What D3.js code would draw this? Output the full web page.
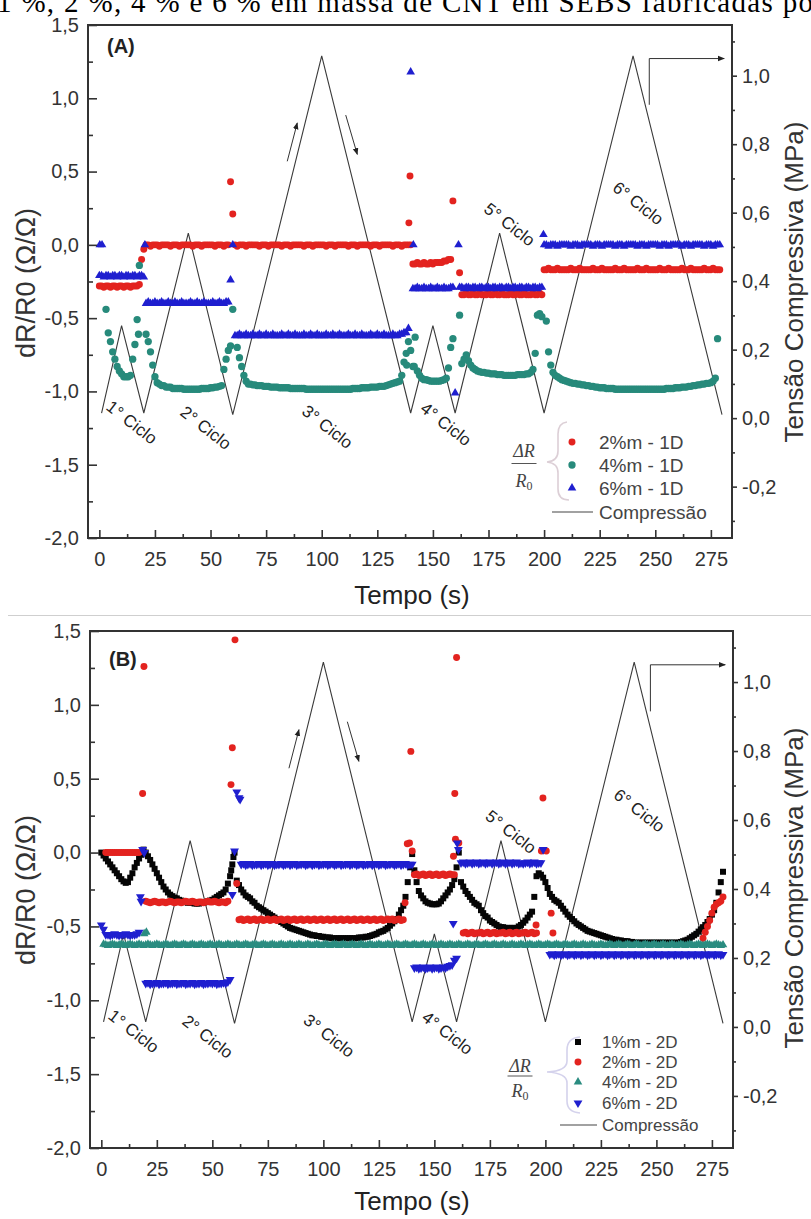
<!DOCTYPE html>
<html><head><meta charset="utf-8">
<script src="https://cdn.jsdelivr.net/npm/d3@7"></script>
<style>body{margin:0;background:#fff}svg{display:block}</style>
</head><body>
<svg id="chart" width="811" height="1219"></svg>
<script>
// ---------------- DATA ----------------
const captionText = "1 %, 2 %, 4 % e 6 % em massa de CNT em SEBS fabricadas po";
const xTicks = [0,25,50,75,100,125,150,175,200,225,250,275];
const yTicks = [-2,-1.5,-1,-0.5,0,0.5,1,1.5];
const yRTicks = [-0.2,0,0.2,0.4,0.6,0.8,1.0];
const cycleLabels = ["1° Ciclo","2° Ciclo","3° Ciclo","4° Ciclo","5° Ciclo","6° Ciclo"];
const cycleT = [14.5,47.8,102.5,155.8,184.4,242.2];
const cycleP = [-0.013,-0.029,-0.026,-0.018,0.565,0.627];
// compression profile (time s, MPa)
const compT = [1,10,20,40,60,100,140,150,160,180,200,240,280];
const compP = [0.015,0.27,0.015,0.54,0.01,1.058,0.015,0.27,0.015,0.54,0.015,1.058,0.01];

// Panel A : values sampled every second (index = time in s), null = no point
const A_red = [
/*0*/ -0.28,-0.28,-0.29,-0.28,-0.28,-0.29,-0.28,-0.28,-0.29,-0.28,
/*10*/ -0.28,-0.29,-0.28,-0.28,-0.29,-0.28,-0.28,-0.28,-0.27,-0.10,
/*20*/ -0.03,0,0,-0.01,0,0,0,-0.01,0,0,
/*30*/ 0,0,-0.01,0,0,0,-0.01,0,0,0,
/*40*/ 0,0,-0.01,0,0,0,-0.01,0,0,0,
/*50*/ 0,0,-0.01,0,0,0,-0.01,0,0,0.43,
/*60*/ 0.21,0,-0.01,0,0,0,-0.01,0,0,0,
/*70*/ 0,0,-0.01,0,0,0,-0.01,0,0,0,
/*80*/ 0,0,-0.01,0,0,0,-0.01,0,0,0,
/*90*/ 0,0,-0.01,0,0,0,-0.01,0,0,0,
/*100*/ 0,0,-0.01,0,0,0,-0.01,0,0,0,
/*110*/ 0,0,-0.01,0,0,0,-0.01,0,0,0,
/*120*/ 0,0,-0.01,0,0,0,-0.01,0,0,0,
/*130*/ 0,0,-0.01,0,0,0,-0.01,0,0,0,
/*140*/ 0,-0.13,-0.13,-0.12,-0.13,-0.13,-0.12,-0.13,-0.13,-0.12,
/*150*/ -0.13,-0.12,-0.12,-0.12,-0.12,-0.11,-0.11,-0.10,-0.10,0.30,
/*160*/ null,null,-0.19,-0.34,-0.34,-0.33,-0.34,-0.34,-0.33,-0.34,
/*170*/ -0.34,-0.33,-0.34,-0.34,-0.34,-0.33,-0.34,-0.34,-0.33,-0.34,
/*180*/ -0.34,-0.33,-0.34,-0.34,-0.34,-0.33,-0.34,-0.34,-0.33,-0.34,
/*190*/ -0.34,-0.33,-0.34,-0.34,-0.34,-0.33,-0.34,-0.34,-0.33,-0.34,
/*200*/ -0.17,-0.17,-0.16,-0.17,-0.17,-0.17,-0.16,-0.17,-0.17,-0.17,
/*210*/ -0.17,-0.17,-0.16,-0.17,-0.17,-0.17,-0.16,-0.17,-0.17,-0.17,
/*220*/ -0.17,-0.17,-0.16,-0.17,-0.17,-0.17,-0.16,-0.17,-0.17,-0.17,
/*230*/ -0.17,-0.17,-0.16,-0.17,-0.17,-0.17,-0.16,-0.17,-0.17,-0.17,
/*240*/ -0.17,-0.17,-0.16,-0.17,-0.17,-0.17,-0.16,-0.17,-0.17,-0.17,
/*250*/ -0.17,-0.17,-0.16,-0.17,-0.17,-0.17,-0.16,-0.17,-0.17,-0.17,
/*260*/ -0.17,-0.17,-0.16,-0.17,-0.17,-0.17,-0.16,-0.17,-0.17,-0.17,
/*270*/ -0.17,-0.17,-0.16,-0.17,-0.17,-0.17,-0.16,-0.17,-0.17,-0.17,
/*280*/ null];
const A_red_extra = [[139.2,0.15],[139.7,0.47]];

const A_teal = [
/*0*/ null,null,null,-0.44,-0.60,-0.66,-0.73,-0.78,-0.83,-0.86,
/*10*/ -0.88,-0.90,-0.90,-0.90,-0.89,-0.78,-0.68,-0.51,-0.14,null,
/*20*/ null,-0.61,-0.66,-0.73,-0.82,-0.90,-0.94,-0.95,-0.96,-0.96,
/*30*/ -0.97,-0.97,-0.97,-0.98,-0.98,-0.98,-0.98,-0.98,-0.985,-0.985,
/*40*/ -0.985,-0.985,-0.985,-0.985,-0.985,-0.985,-0.98,-0.98,-0.98,-0.98,
/*50*/ -0.975,-0.975,-0.97,-0.97,-0.965,-0.96,-0.85,-0.78,-0.72,-0.69,
/*60*/ -0.44,null,-0.70,-0.77,-0.83,-0.89,-0.93,-0.95,-0.95,-0.955,
/*70*/ -0.955,-0.96,-0.96,-0.96,-0.965,-0.965,-0.965,-0.97,-0.97,-0.97,
/*80*/ -0.97,-0.975,-0.975,-0.975,-0.975,-0.975,-0.98,-0.98,-0.98,-0.98,
/*90*/ -0.98,-0.98,-0.98,-0.985,-0.985,-0.985,-0.985,-0.985,-0.985,-0.985,
/*100*/ -0.985,-0.985,-0.985,-0.985,-0.985,-0.985,-0.985,-0.985,-0.985,-0.985,
/*110*/ -0.985,-0.985,-0.985,-0.985,-0.98,-0.98,-0.98,-0.98,-0.975,-0.975,
/*120*/ -0.975,-0.975,-0.97,-0.97,-0.97,-0.97,-0.965,-0.965,-0.965,-0.96,
/*130*/ -0.955,-0.95,-0.945,-0.94,-0.935,-0.93,-0.89,-0.80,-0.74,-0.66,
/*140*/ -0.72,-0.83,-0.63,-0.86,-0.89,-0.91,-0.92,-0.92,-0.925,-0.93,
/*150*/ -0.93,-0.93,-0.93,-0.93,-0.925,-0.92,-0.91,-0.84,-0.70,-0.64,
/*160*/ null,null,-0.48,-0.81,-0.78,-0.75,-0.79,-0.82,-0.84,-0.85,
/*170*/ -0.86,-0.865,-0.87,-0.87,-0.875,-0.875,-0.88,-0.88,-0.88,-0.885,
/*180*/ -0.885,-0.885,-0.89,-0.89,-0.89,-0.89,-0.89,-0.89,-0.885,-0.885,
/*190*/ -0.885,-0.885,-0.88,-0.88,-0.87,-0.85,-0.74,-0.48,-0.47,-0.49,
/*200*/ null,-0.52,-0.73,-0.82,-0.87,-0.89,-0.90,-0.91,-0.92,-0.925,
/*210*/ -0.93,-0.935,-0.94,-0.945,-0.945,-0.95,-0.95,-0.955,-0.955,-0.96,
/*220*/ -0.96,-0.965,-0.965,-0.97,-0.97,-0.975,-0.975,-0.975,-0.98,-0.98,
/*230*/ -0.98,-0.98,-0.985,-0.985,-0.985,-0.985,-0.985,-0.985,-0.985,-0.985,
/*240*/ -0.985,-0.985,-0.985,-0.985,-0.985,-0.985,-0.985,-0.985,-0.985,-0.985,
/*250*/ -0.985,-0.985,-0.985,-0.985,-0.985,-0.98,-0.98,-0.98,-0.98,-0.975,
/*260*/ -0.975,-0.975,-0.97,-0.97,-0.97,-0.965,-0.965,-0.96,-0.96,-0.955,
/*270*/ -0.955,-0.95,-0.95,-0.945,-0.945,-0.94,-0.93,-0.91,-0.64,null,
/*280*/ null];
const A_teal_extra = [[138.2,-0.82],[141.6,-0.83],[17.6,-0.61]];

const A_blue = [
/*0*/ -0.21,-0.21,-0.22,-0.21,-0.21,-0.22,-0.21,-0.21,-0.22,-0.21,
/*10*/ -0.21,-0.22,-0.21,-0.21,-0.22,-0.21,-0.21,-0.22,-0.21,-0.21,
/*20*/ -0.22,-0.40,-0.39,-0.40,-0.40,-0.39,-0.40,-0.40,-0.39,-0.40,
/*30*/ -0.40,-0.39,-0.40,-0.40,-0.39,-0.40,-0.40,-0.39,-0.40,-0.40,
/*40*/ -0.40,-0.39,-0.40,-0.40,-0.39,-0.40,-0.40,-0.39,-0.40,-0.40,
/*50*/ -0.40,-0.39,-0.40,-0.40,-0.39,-0.40,-0.40,-0.39,-0.39,-0.24,
/*60*/ 0.0,-0.62,-0.62,-0.61,-0.62,-0.62,-0.61,-0.62,-0.62,-0.61,
/*70*/ -0.62,-0.62,-0.61,-0.62,-0.62,-0.61,-0.62,-0.62,-0.61,-0.62,
/*80*/ -0.62,-0.62,-0.61,-0.62,-0.62,-0.61,-0.62,-0.62,-0.61,-0.62,
/*90*/ -0.62,-0.62,-0.61,-0.62,-0.62,-0.61,-0.62,-0.62,-0.61,-0.62,
/*100*/ -0.62,-0.62,-0.61,-0.62,-0.62,-0.61,-0.62,-0.62,-0.61,-0.62,
/*110*/ -0.62,-0.62,-0.61,-0.62,-0.62,-0.61,-0.62,-0.62,-0.61,-0.62,
/*120*/ -0.62,-0.62,-0.61,-0.62,-0.62,-0.61,-0.62,-0.62,-0.61,-0.62,
/*130*/ -0.62,-0.62,-0.61,-0.62,-0.62,-0.61,-0.61,-0.60,-0.60,-0.57,
/*140*/ 1.18,-0.30,-0.30,-0.29,-0.30,-0.30,-0.29,-0.30,-0.30,-0.29,
/*150*/ -0.30,-0.30,-0.29,-0.30,-0.30,-0.29,-0.30,-0.30,-0.29,-0.29,
/*160*/ -1.01,null,-0.29,-0.29,-0.30,-0.29,-0.29,-0.30,-0.29,-0.29,
/*170*/ -0.30,-0.29,-0.29,-0.30,-0.29,-0.29,-0.30,-0.29,-0.29,-0.30,
/*180*/ -0.29,-0.29,-0.30,-0.29,-0.29,-0.30,-0.29,-0.29,-0.30,-0.29,
/*190*/ -0.29,-0.30,-0.29,-0.29,-0.30,-0.29,-0.29,-0.30,-0.29,-0.29,
/*200*/ 0,0,-0.01,0,0,0,-0.01,0,0,0,
/*210*/ 0,0,-0.01,0,0,0,-0.01,0,0,0,
/*220*/ 0,0,-0.01,0,0,0,-0.01,0,0,0,
/*230*/ 0,0,-0.01,0,0,0,-0.01,0,0,0,
/*240*/ 0,0,-0.01,0,0,0,-0.01,0,0,0,
/*250*/ 0,0,-0.01,0,0,0,-0.01,0,0,0,
/*260*/ 0,0,-0.01,0,0,0,-0.01,0,0,0,
/*270*/ 0,0,-0.01,0,0,0,-0.01,0,0,0,
/*280*/ null];
const A_blue_extra = [[0.2,0],[1.2,0],[20.5,0],[141.2,0],[161.5,0],[199.7,0.07]];

// Panel B
const B_black = [
/*0*/ 0,-0.02,-0.04,-0.06,-0.08,-0.10,-0.12,-0.14,-0.16,-0.18,
/*10*/ -0.195,-0.205,-0.20,-0.17,-0.14,-0.10,-0.07,-0.04,-0.015,0.02,
/*20*/ 0,-0.025,-0.05,-0.08,-0.11,-0.14,-0.17,-0.20,-0.23,-0.25,
/*30*/ -0.27,-0.285,-0.295,-0.305,-0.31,-0.32,-0.325,-0.33,-0.335,-0.34,
/*40*/ -0.34,-0.34,-0.345,-0.345,-0.345,-0.34,-0.34,-0.335,-0.33,-0.325,
/*50*/ -0.32,-0.31,-0.30,-0.29,-0.28,-0.27,-0.25,-0.21,-0.16,-0.08,
/*60*/ 0,-0.19,-0.22,-0.25,-0.27,-0.29,-0.30,-0.31,-0.33,-0.34,
/*70*/ -0.36,-0.37,-0.38,-0.39,-0.40,-0.41,-0.42,-0.43,-0.44,-0.45,
/*80*/ -0.46,-0.47,-0.48,-0.49,-0.50,-0.51,-0.515,-0.52,-0.525,-0.53,
/*90*/ -0.535,-0.54,-0.545,-0.55,-0.555,-0.56,-0.56,-0.565,-0.565,-0.57,
/*100*/ -0.57,-0.575,-0.575,-0.575,-0.58,-0.58,-0.58,-0.58,-0.58,-0.58,
/*110*/ -0.58,-0.58,-0.58,-0.58,-0.58,-0.58,-0.575,-0.575,-0.575,-0.57,
/*120*/ -0.57,-0.565,-0.56,-0.555,-0.55,-0.54,-0.535,-0.53,-0.52,-0.51,
/*130*/ -0.495,-0.48,-0.465,-0.45,-0.42,-0.39,-0.36,-0.30,-0.20,-0.10,
/*140*/ -0.01,-0.12,-0.20,-0.26,-0.29,-0.31,-0.33,-0.34,-0.345,-0.35,
/*150*/ -0.35,-0.35,-0.345,-0.33,-0.31,-0.29,-0.27,-0.25,-0.22,-0.18,
/*160*/ -0.10,0.0,-0.20,-0.23,-0.26,-0.28,-0.30,-0.32,-0.34,-0.35,
/*170*/ -0.36,-0.39,-0.41,-0.43,-0.44,-0.46,-0.47,-0.48,-0.49,-0.50,
/*180*/ -0.505,-0.505,-0.51,-0.51,-0.51,-0.51,-0.51,-0.51,-0.50,-0.49,
/*190*/ -0.475,-0.46,-0.44,-0.42,-0.40,-0.30,-0.16,-0.14,-0.15,-0.17,
/*200*/ -0.20,-0.24,-0.28,-0.30,-0.32,-0.33,-0.34,-0.36,-0.38,-0.40,
/*210*/ -0.42,-0.435,-0.45,-0.465,-0.48,-0.49,-0.50,-0.51,-0.52,-0.53,
/*220*/ -0.535,-0.54,-0.545,-0.55,-0.555,-0.56,-0.565,-0.57,-0.575,-0.58,
/*230*/ -0.585,-0.59,-0.59,-0.595,-0.595,-0.60,-0.60,-0.60,-0.605,-0.605,
/*240*/ -0.61,-0.61,-0.61,-0.61,-0.61,-0.61,-0.61,-0.61,-0.61,-0.61,
/*250*/ -0.61,-0.61,-0.61,-0.61,-0.61,-0.61,-0.61,-0.61,-0.61,-0.61,
/*260*/ -0.61,-0.605,-0.60,-0.595,-0.59,-0.58,-0.57,-0.56,-0.55,-0.535,
/*270*/ -0.52,-0.505,-0.49,-0.47,-0.45,-0.42,-0.39,-0.34,-0.27,-0.20,
/*280*/ -0.13];
const B_black_extra = [[59.5,-0.03],[58.5,-0.12]];

const B_red = [
/*0*/ null,null,0,0,0,0,0,0,0,0,
/*10*/ 0,0,0,0,0,0,0,0,null,null,
/*20*/ -0.33,-0.335,-0.34,-0.335,-0.33,-0.335,-0.34,-0.335,-0.335,-0.34,
/*30*/ -0.335,-0.33,-0.335,-0.34,-0.335,-0.335,-0.34,-0.335,-0.33,-0.335,
/*40*/ -0.335,-0.33,-0.335,-0.34,-0.335,-0.335,-0.34,-0.335,-0.33,-0.335,
/*50*/ -0.335,-0.33,-0.335,-0.34,-0.335,-0.335,-0.34,-0.33,null,null,
/*60*/ null,-0.21,-0.455,-0.45,-0.46,-0.455,-0.45,-0.46,-0.455,-0.45,
/*70*/ -0.46,-0.455,-0.45,-0.46,-0.455,-0.45,-0.46,-0.455,-0.45,-0.46,
/*80*/ -0.455,-0.45,-0.46,-0.455,-0.45,-0.46,-0.455,-0.45,-0.46,-0.455,
/*90*/ -0.45,-0.46,-0.455,-0.45,-0.46,-0.455,-0.45,-0.46,-0.455,-0.45,
/*100*/ -0.46,-0.455,-0.45,-0.46,-0.455,-0.45,-0.46,-0.455,-0.45,-0.46,
/*110*/ -0.455,-0.45,-0.46,-0.455,-0.45,-0.46,-0.455,-0.45,-0.46,-0.455,
/*120*/ -0.45,-0.46,-0.455,-0.45,-0.46,-0.455,-0.45,-0.46,-0.455,-0.45,
/*130*/ -0.455,-0.45,-0.46,-0.455,-0.45,-0.46,-0.455,null,null,null,
/*140*/ null,-0.15,-0.145,-0.155,-0.15,-0.145,-0.155,-0.15,-0.145,-0.155,
/*150*/ -0.15,-0.145,-0.155,-0.15,-0.145,-0.155,-0.15,-0.145,-0.15,-0.15,
/*160*/ null,null,null,-0.545,-0.54,-0.55,-0.545,-0.54,-0.55,-0.545,
/*170*/ -0.545,-0.54,-0.55,-0.545,-0.54,-0.55,-0.545,-0.54,-0.55,-0.545,
/*180*/ -0.545,-0.54,-0.55,-0.545,-0.54,-0.55,-0.545,-0.54,-0.55,-0.545,
/*190*/ -0.545,-0.54,-0.55,-0.545,-0.54,-0.55,-0.545,null,null,null,
/*200*/ null,null,null,null,null,null,null,null,null,null,
/*210*/ null,null,null,null,null,null,null,null,null,null,
/*220*/ null,null,null,null,null,null,null,null,null,null,
/*230*/ null,null,null,null,null,null,null,null,null,null,
/*240*/ null,null,null,null,null,null,null,null,null,null,
/*250*/ null,null,null,null,null,null,null,null,null,null,
/*260*/ null,null,null,null,null,null,null,null,null,null,
/*270*/ null,-0.58,-0.54,-0.50,-0.46,-0.41,-0.37,-0.35,-0.34,-0.33,
/*280*/ -0.30];
const B_red_extra = [[18.6,0.40],[19.2,1.26],[58.4,0.46],[59.0,0.71],[60.2,1.44],
  [136.8,-0.34],[137.8,0.06],[138.8,0.065],[139.4,0.685],[140,0.01],
  [158.6,-0.025],[159.2,0.40],[159.5,0.09],[160,1.32],[161,0.065],
  [195.8,-0.49],[198.2,0.01],[198.9,0.37],[200.4,0.01],[202.6,-0.41],[203.4,-0.545]];

const B_teal = [
/*0*/ null,-0.62,-0.625,-0.63,-0.625,-0.62,-0.625,-0.63,-0.625,-0.62,
/*10*/ -0.625,-0.63,-0.625,-0.62,-0.625,-0.63,-0.625,-0.62,-0.625,-0.63,
/*20*/ -0.625,-0.62,-0.625,-0.63,-0.625,-0.62,-0.625,-0.63,-0.625,-0.62,
/*30*/ -0.625,-0.63,-0.625,-0.62,-0.625,-0.63,-0.625,-0.62,-0.625,-0.63,
/*40*/ -0.625,-0.62,-0.625,-0.63,-0.625,-0.62,-0.625,-0.63,-0.625,-0.62,
/*50*/ -0.625,-0.63,-0.625,-0.62,-0.625,-0.63,-0.625,-0.62,-0.625,-0.63,
/*60*/ -0.625,-0.62,-0.625,-0.63,-0.625,-0.62,-0.625,-0.63,-0.625,-0.62,
/*70*/ -0.625,-0.63,-0.625,-0.62,-0.625,-0.63,-0.625,-0.62,-0.625,-0.63,
/*80*/ -0.625,-0.62,-0.625,-0.63,-0.625,-0.62,-0.625,-0.63,-0.625,-0.62,
/*90*/ -0.625,-0.63,-0.625,-0.62,-0.625,-0.63,-0.625,-0.62,-0.625,-0.63,
/*100*/ -0.625,-0.62,-0.625,-0.63,-0.625,-0.62,-0.625,-0.63,-0.625,-0.62,
/*110*/ -0.625,-0.63,-0.625,-0.62,-0.625,-0.63,-0.625,-0.62,-0.625,-0.63,
/*120*/ -0.625,-0.62,-0.625,-0.63,-0.625,-0.62,-0.625,-0.63,-0.625,-0.62,
/*130*/ -0.625,-0.63,-0.625,-0.62,-0.625,-0.63,-0.625,-0.62,-0.625,-0.63,
/*140*/ -0.625,-0.62,-0.625,-0.63,-0.625,-0.62,-0.625,-0.63,-0.625,-0.62,
/*150*/ -0.625,-0.63,-0.625,-0.62,-0.625,-0.63,-0.625,-0.62,-0.625,-0.63,
/*160*/ -0.625,-0.62,-0.625,-0.63,-0.625,-0.62,-0.625,-0.63,-0.625,-0.62,
/*170*/ -0.625,-0.63,-0.625,-0.62,-0.625,-0.63,-0.625,-0.62,-0.625,-0.63,
/*180*/ -0.625,-0.62,-0.625,-0.63,-0.625,-0.62,-0.625,-0.63,-0.625,-0.62,
/*190*/ -0.625,-0.63,-0.625,-0.62,-0.625,-0.63,-0.625,-0.62,-0.625,-0.63,
/*200*/ -0.625,-0.62,-0.625,-0.63,-0.625,-0.62,-0.625,-0.63,-0.625,-0.62,
/*210*/ -0.625,-0.63,-0.625,-0.62,-0.625,-0.63,-0.625,-0.62,-0.625,-0.63,
/*220*/ -0.625,-0.62,-0.625,-0.63,-0.625,-0.62,-0.625,-0.63,-0.625,-0.62,
/*230*/ -0.625,-0.63,-0.625,-0.62,-0.625,-0.63,-0.625,-0.62,-0.625,-0.63,
/*240*/ -0.625,-0.62,-0.625,-0.63,-0.625,-0.62,-0.625,-0.63,-0.625,-0.62,
/*250*/ -0.625,-0.63,-0.625,-0.62,-0.625,-0.63,-0.625,-0.62,-0.625,-0.63,
/*260*/ -0.625,-0.62,-0.625,-0.63,-0.625,-0.62,-0.625,-0.63,-0.625,-0.62,
/*270*/ -0.625,-0.63,-0.625,-0.62,-0.625,-0.63,-0.625,-0.62,-0.625,-0.63,
/*280*/ -0.625];
const B_teal_extra = [[19.3,-0.55],[20.3,-0.54]];

const B_blue = [
/*0*/ -0.49,-0.52,-0.555,-0.555,-0.56,-0.555,-0.55,-0.555,-0.56,-0.555,
/*10*/ -0.555,-0.55,-0.555,-0.56,-0.555,-0.555,-0.55,-0.54,null,null,
/*20*/ -0.885,-0.88,-0.89,-0.885,-0.885,-0.88,-0.89,-0.885,-0.885,-0.88,
/*30*/ -0.89,-0.885,-0.885,-0.88,-0.89,-0.885,-0.885,-0.88,-0.89,-0.885,
/*40*/ -0.885,-0.88,-0.89,-0.885,-0.885,-0.88,-0.89,-0.885,-0.885,-0.88,
/*50*/ -0.885,-0.88,-0.89,-0.885,-0.885,-0.88,-0.885,-0.875,-0.86,-0.285,
/*60*/ 0.01,0.41,0.37,-0.08,-0.075,-0.085,-0.08,-0.075,-0.085,-0.08,
/*70*/ -0.08,-0.075,-0.085,-0.08,-0.075,-0.085,-0.08,-0.075,-0.085,-0.08,
/*80*/ -0.08,-0.075,-0.085,-0.08,-0.075,-0.085,-0.08,-0.075,-0.085,-0.08,
/*90*/ -0.08,-0.075,-0.085,-0.08,-0.075,-0.085,-0.08,-0.075,-0.085,-0.08,
/*100*/ -0.08,-0.075,-0.085,-0.08,-0.075,-0.085,-0.08,-0.075,-0.085,-0.08,
/*110*/ -0.08,-0.075,-0.085,-0.08,-0.075,-0.085,-0.08,-0.075,-0.085,-0.08,
/*120*/ -0.08,-0.075,-0.085,-0.08,-0.075,-0.085,-0.08,-0.075,-0.085,-0.08,
/*130*/ -0.08,-0.075,-0.085,-0.08,-0.075,-0.085,-0.08,-0.075,-0.085,-0.08,
/*140*/ -0.08,-0.78,-0.775,-0.785,-0.78,-0.775,-0.785,-0.78,-0.775,-0.785,
/*150*/ -0.78,-0.775,-0.785,-0.78,-0.775,-0.78,-0.77,-0.765,-0.76,-0.73,
/*160*/ -0.715,null,-0.07,-0.065,-0.075,-0.07,-0.065,-0.075,-0.07,-0.065,
/*170*/ -0.075,-0.07,-0.065,-0.075,-0.07,-0.065,-0.075,-0.07,-0.065,-0.075,
/*180*/ -0.07,-0.065,-0.075,-0.07,-0.065,-0.075,-0.07,-0.065,-0.075,-0.07,
/*190*/ -0.075,-0.07,-0.065,-0.075,-0.07,-0.065,-0.075,-0.07,-0.07,0.02,
/*200*/ null,null,-0.69,-0.685,-0.695,-0.69,-0.685,-0.695,-0.69,-0.685,
/*210*/ -0.695,-0.69,-0.685,-0.695,-0.69,-0.685,-0.695,-0.69,-0.685,-0.695,
/*220*/ -0.69,-0.685,-0.695,-0.69,-0.685,-0.695,-0.69,-0.685,-0.695,-0.69,
/*230*/ -0.685,-0.695,-0.69,-0.685,-0.695,-0.69,-0.685,-0.695,-0.69,-0.685,
/*240*/ -0.695,-0.69,-0.685,-0.695,-0.69,-0.685,-0.695,-0.69,-0.685,-0.695,
/*250*/ -0.69,-0.685,-0.695,-0.69,-0.685,-0.695,-0.69,-0.685,-0.695,-0.69,
/*260*/ -0.685,-0.695,-0.69,-0.685,-0.695,-0.69,-0.685,-0.695,-0.69,-0.685,
/*270*/ -0.695,-0.69,-0.685,-0.695,-0.69,-0.685,-0.695,-0.69,-0.685,-0.695,
/*280*/ -0.69];
const B_blue_extra = [[17.6,-0.30],[17.9,-0.33],[18.6,0.02],[19.3,0.0],[62.5,0.36],[158.5,-0.48],[160.3,0.065],[160.8,0.02]];

// annotation arrows (time s, MPa)
const arrowUp = [[84.5,0.75],[89,0.862]];
const arrowDown = [[110.8,0.885],[116,0.77]];
const arrowAxis = [[247.3,0.915],[247.3,1.05],[281,1.05]];

// ---------------- DRAW ----------------
const SANS = '"Liberation Sans", Arial, Helvetica, sans-serif';
const SERIF = '"Liberation Serif", "Times New Roman", serif';
const svg = d3.select('#chart');
svg.append('rect').attr('width',811).attr('height',1219).attr('fill','#fff');

const defs = svg.append('defs');
defs.append('marker').attr('id','ah').attr('viewBox','0 0 10 10').attr('refX',9).attr('refY',5)
  .attr('markerWidth',7).attr('markerHeight',7).attr('orient','auto')
  .append('path').attr('d','M0,1 L10,5 L0,9 z').attr('fill','#222');

// caption (cut at top, as in the source page)
svg.append('text').attr('x',-3).attr('y',12).attr('font-family',SERIF).attr('font-size',29)
  .attr('textLength',816).attr('lengthAdjust','spacing').attr('fill','#000').text(captionText);
// separator line between panels
svg.append('line').attr('x1',8).attr('x2',811).attr('y1',615.5).attr('y2',615.5)
  .attr('stroke','#cfcfcf').attr('stroke-width',1);

const fmt = d => d3.format('.1f')(d).replace('.',',').replace('\u2212','-');
const xDomain = [-5.1, 284.5];

const SYM = {
  circle: d3.symbolCircle, square: d3.symbolSquare, triangle: d3.symbolTriangle
};

const panels = [
  { tag:'(A)', l:88, t:25, r:732, b:538, rDom:[-0.35,1.148],
    titleLeftY:283, titleRightY:282, xTitleY:604, tagY:53,
    series:[
      {name:'2%m - 1D', vals:A_red, extra:A_red_extra, sym:'circle', size:38, fill:'#e3231f'},
      {name:'4%m - 1D', vals:A_teal, extra:A_teal_extra, sym:'circle', size:42, fill:'#278a7b'},
      {name:'6%m - 1D', vals:A_blue, extra:A_blue_extra, sym:'triangle', size:32, fill:'#1f1fcf'}],
    leg:{mx:572, ys:[442,465,488], compY:512, line:[552,593], tx:599, fs:19,
      frac:{cx:524, y1:457, ly:463.5, y2:487, w:25},
      brace:'M567,422 Q558,423 558,434 L558,451 Q558,461 547,462 Q558,463 558,473 L558,489 Q558,500 569,500',
      braceColor:'#dccfd6'} },
  { tag:'(B)', l:90, t:631, r:733, b:1148, rDom:[-0.351,1.148],
    titleLeftY:890, titleRightY:888, xTitleY:1210, tagY:666,
    series:[
      {name:'1%m - 2D', vals:B_black, extra:B_black_extra, sym:'square', size:36, fill:'#050505'},
      {name:'2%m - 2D', vals:B_red, extra:B_red_extra, sym:'circle', size:38, fill:'#e3231f'},
      {name:'4%m - 2D', vals:B_teal, extra:B_teal_extra, sym:'triangle', size:32, fill:'#2a8c80'},
      {name:'6%m - 2D', vals:B_blue, extra:B_blue_extra, sym:'triangle', rot:true, size:34, fill:'#1f1fcf'}],
    leg:{mx:578, ys:[1042,1062,1082,1103], compY:1125, line:[560,597], tx:602, fs:17,
      frac:{cx:520, y1:1072, ly:1076, y2:1097, w:25},
      brace:'M580,1037 Q567,1038 567,1050 L567,1061 Q567,1071 547,1072 Q567,1073 567,1083 L567,1101 Q567,1112 580,1113',
      braceColor:'#d4d2ec'} }
];

function toPoints(vals, extra){
  const p = [];
  vals.forEach((v,i)=>{ if(v!==null) p.push([i,v]); });
  extra.forEach(e=>p.push(e));
  return p;
}

panels.forEach(P => {
  const g = svg.append('g');
  const x = d3.scaleLinear().domain(xDomain).range([P.l, P.r]);
  const y = d3.scaleLinear().domain([-2,1.5]).range([P.b, P.t]);
  const yR = d3.scaleLinear().domain(P.rDom).range([P.b, P.t]);

  // compression line
  const line = d3.line().x(d=>x(d[0])).y(d=>yR(d[1]));
  g.append('path').datum(d3.zip(compT, compP)).attr('d', line)
    .attr('fill','none').attr('stroke','#3a3a3a').attr('stroke-width',1.1);

  // arrows
  [arrowUp, arrowDown, arrowAxis].forEach(a => {
    g.append('path').datum(a).attr('d', line).attr('fill','none')
      .attr('stroke','#333').attr('stroke-width',1).attr('marker-end','url(#ah)');
  });

  // cycle labels
  cycleLabels.forEach((lab,i) => {
    g.append('text').attr('transform',`translate(${x(cycleT[i])},${yR(cycleP[i])}) rotate(38)`)
      .attr('text-anchor','middle').attr('dominant-baseline','central')
      .attr('font-family',SANS).attr('font-size',17).attr('fill','#222').text(lab);
  });

  // data series
  P.series.forEach(s => {
    const path = d3.symbol(SYM[s.sym], s.size)();
    g.append('g').selectAll('path').data(toPoints(s.vals, s.extra)).join('path')
      .attr('transform', d => `translate(${x(d[0])},${y(d[1])})${s.rot?' rotate(180)':''}`)
      .attr('d', path).attr('fill', s.fill);
  });

  // frame
  g.append('rect').attr('x',P.l).attr('y',P.t).attr('width',P.r-P.l).attr('height',P.b-P.t)
    .attr('fill','none').attr('stroke','#333').attr('stroke-width',2);

  const styleAxis = sel => {
    sel.select('.domain').remove();
    sel.selectAll('line').attr('stroke','#333').attr('stroke-width',1.6);
    sel.selectAll('text').attr('font-family',SANS).attr('font-size',20).attr('fill','#333');
  };
  // left axis
  g.append('g').attr('transform',`translate(${P.l},0)`)
    .call(d3.axisLeft(y).tickValues(yTicks).tickSize(-9).tickPadding(9).tickFormat(fmt)).call(styleAxis);
  g.append('g').attr('transform',`translate(${P.l},0)`)
    .call(d3.axisLeft(y).tickValues(d3.range(-1.75,1.5,0.5)).tickSize(-5).tickFormat('')).call(styleAxis);
  // bottom axis
  g.append('g').attr('transform',`translate(0,${P.b})`)
    .call(d3.axisBottom(x).tickValues(xTicks).tickSize(-8).tickPadding(14).tickFormat(d3.format('d'))).call(styleAxis);
  g.append('g').attr('transform',`translate(0,${P.b})`)
    .call(d3.axisBottom(x).tickValues(d3.range(12.5,280,25)).tickSize(-4).tickFormat('')).call(styleAxis);
  // right axis
  g.append('g').attr('transform',`translate(${P.r},0)`)
    .call(d3.axisRight(yR).tickValues(yRTicks).tickSize(5).tickPadding(5).tickFormat(fmt)).call(styleAxis);
  g.append('g').attr('transform',`translate(${P.r},0)`)
    .call(d3.axisRight(yR).tickValues([-0.3,-0.1,0.1,0.3,0.5,0.7,0.9,1.1]).tickSize(3).tickFormat('')).call(styleAxis);

  // titles
  g.append('text').attr('transform',`translate(35,${P.titleLeftY}) rotate(-90)`).attr('text-anchor','middle')
    .attr('font-family',SANS).attr('font-size',27).attr('fill','#333').text('dR/R0 (\u03A9/\u03A9)');
  g.append('text').attr('transform',`translate(803,${P.titleRightY}) rotate(-90)`).attr('text-anchor','middle')
    .attr('font-family',SANS).attr('font-size',26).attr('fill','#333').text('Tensão Compressiva (MPa)');
  g.append('text').attr('x',412).attr('y',P.xTitleY).attr('text-anchor','middle')
    .attr('font-family',SANS).attr('font-size',26).attr('fill','#222').text('Tempo (s)');
  g.append('text').attr('x',P.l+19).attr('y',P.tagY).attr('font-family',SANS).attr('font-weight','bold')
    .attr('font-size',20).attr('fill','#222').text(P.tag);

  // legend
  const L = P.leg;
  g.append('path').attr('d',L.brace).attr('fill','none').attr('stroke',L.braceColor).attr('stroke-width',1.6);
  const fr = g.append('g').attr('font-family',SERIF).attr('font-style','italic').attr('fill','#444');
  fr.append('text').attr('x',L.frac.cx).attr('y',L.frac.y1).attr('text-anchor','middle').attr('font-size',18).text('\u0394R');
  fr.append('line').attr('x1',L.frac.cx-L.frac.w/2).attr('x2',L.frac.cx+L.frac.w/2).attr('y1',L.frac.ly).attr('y2',L.frac.ly)
    .attr('stroke','#555').attr('stroke-width',1);
  const r0 = fr.append('text').attr('x',L.frac.cx).attr('y',L.frac.y2).attr('text-anchor','middle').attr('font-size',18);
  r0.append('tspan').text('R');
  r0.append('tspan').attr('font-style','normal').attr('font-size',12).attr('dy',3).text('0');

  P.series.forEach((s,i) => {
    g.append('path').attr('d', d3.symbol(SYM[s.sym], s.size)())
      .attr('transform',`translate(${L.mx},${L.ys[i]})${s.rot?' rotate(180)':''}`)
      .attr('fill', s.fill);
    g.append('text').attr('x',L.tx).attr('y',L.ys[i]).attr('dominant-baseline','central')
      .attr('font-family',SANS).attr('font-size',L.fs).attr('fill','#444').text(s.name);
  });
  g.append('line').attr('x1',L.line[0]).attr('x2',L.line[1]).attr('y1',L.compY).attr('y2',L.compY)
    .attr('stroke','#444').attr('stroke-width',1.2);
  g.append('text').attr('x',L.tx).attr('y',L.compY).attr('dominant-baseline','central')
    .attr('font-family',SANS).attr('font-size',L.fs).attr('fill','#444').text('Compressão');
});
</script>
</body></html>
